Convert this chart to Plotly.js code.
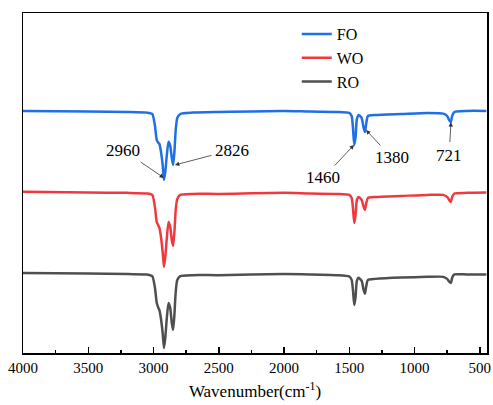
<!DOCTYPE html>
<html>
<head>
<meta charset="utf-8">
<script src="https://cdn.plot.ly/plotly-3.0.1.min.js"></script>
<style>html,body{margin:0;padding:0;background:#fff;}#chart{width:493px;height:405px;}</style>
</head>
<body>
<div id="chart"></div>
<script>
const wavenumber = [4000,3500,3200,3050,3010,2990,2975,2962,2955,2945,2930,2920,2910,2898,2885,2872,2860,2850,2840,2830,2818,2795,2700,2500,2000,1800,1600,1500,1482,1472,1462,1452,1442,1428,1405,1392,1380,1370,1357,1300,1100,900,780,750,735,722,712,695,600,450];
// Series values (arbitrary transmittance, vertically offset as in the figure)
const FO = [71.2,71.0,70.9,70.7,70.3,67.1,62.6,61.8,61.5,59.7,55.3,50.9,53.2,58.2,62.1,60.9,57.4,55.3,59.1,65.6,69.1,70.3,70.7,70.9,71.2,71.0,70.9,70.6,69.7,66.2,61.2,63.5,68.8,70.0,69.1,66.5,65.0,67.6,69.7,70.0,70.3,70.6,70.4,69.7,68.5,67.9,69.7,70.9,71.2,71.2];
const WO = [47.4,47.2,47.1,46.9,46.5,43.2,38.5,37.4,36.8,34.7,29.7,25.3,28.2,33.8,38.5,37.1,33.2,31.5,35.6,42.1,45.3,46.5,46.8,46.8,47.1,46.9,46.8,46.5,45.6,42.6,38.2,40.6,45.0,45.9,45.0,43.2,42.1,44.1,45.6,45.9,46.2,46.5,46.5,45.9,45.0,44.4,45.9,46.9,47.1,47.2];
const RO = [23.5,23.4,23.2,23.1,22.6,19.4,14.7,13.2,12.6,10.6,5.9,1.5,4.4,10.3,14.7,13.2,8.8,6.8,11.2,17.9,21.5,22.6,22.9,22.9,23.2,23.1,22.9,22.5,21.5,18.5,14.1,16.5,21.2,22.1,21.2,18.8,17.4,19.7,21.5,21.8,22.2,22.4,22.4,21.8,21.0,20.6,22.1,23.1,23.1,23.1];
const seriesNames = ["FO","WO","RO"];
const seriesColors = ["#1f6fe6","#ee3a3f","#4f4f4f"];

// Peak labels: text, arrow tip (x,y), label position (x,y)
const peakLabels = ["2960","2826","1460","1380","721"];
const tipX = [2920,2836,1464,1372,721];
const tipY = [51.5,55.3,61.2,65.6,67.9];
const labelX = [3234,2400,1701,1173,735];
const labelY = [59.7,59.7,51.5,57.4,58.2];

const FONT = "'Liberation Serif', 'Times New Roman', Times, serif";
const data = [FO, WO, RO].map((ys, i) => ({
  type: "scatter", mode: "lines", name: seriesNames[i],
  x: wavenumber, y: ys,
  line: {color: seriesColors[i], width: 2.5, shape: "spline", smoothing: 0.6}
}));

const annotations = peakLabels.map((t, i) => ({
  x: tipX[i], y: tipY[i], xref: "x", yref: "y",
  ax: labelX[i], ay: labelY[i], axref: "x", ayref: "y",
  text: t, showarrow: true, arrowhead: 2, arrowsize: 1.1, arrowwidth: 0.8,
  arrowcolor: "#333", standoff: 0, startstandoff: 2,
  font: {family: FONT, size: 17, color: "#000"}
}));

const layout = {
  width: 493, height: 405,
  margin: {l: 23, r: 6, t: 13, b: 52},
  paper_bgcolor: "#fff", plot_bgcolor: "#fff",
  showlegend: true,
  legend: {x: 0.59, y: 0.988, xanchor: "left", yanchor: "top",
           bgcolor: "rgba(0,0,0,0)", font: {family: FONT, size: 16, color: "#000"}},
  xaxis: {
    range: [4000, 445], autorange: false,
    tick0: 500, dtick: 500, ticks: "inside", ticklen: 6, tickwidth: 1.5, tickcolor: "#000",
    minor: {ticks: "inside", ticklen: 3, tickwidth: 1.5, dtick: 250, tick0: 500, tickcolor: "#000"},
    showline: true, linecolor: "#000", linewidth: 1.5, mirror: true,
    showgrid: false, zeroline: false,
    tickfont: {family: FONT, size: 15, color: "#000"},
    title: {text: "Wavenumber(cm<sup>-1</sup>)", font: {family: FONT, size: 17, color: "#000"}, standoff: 10}
  },
  yaxis: {
    range: [0, 100], autorange: false,
    showticklabels: false, ticks: "", showgrid: false, zeroline: false,
    showline: true, linecolor: "#000", linewidth: 1.5, mirror: true
  },
  annotations: annotations
};

Plotly.newPlot("chart", data, layout, {staticPlot: true, displayModeBar: false});
</script>
</body>
</html>
